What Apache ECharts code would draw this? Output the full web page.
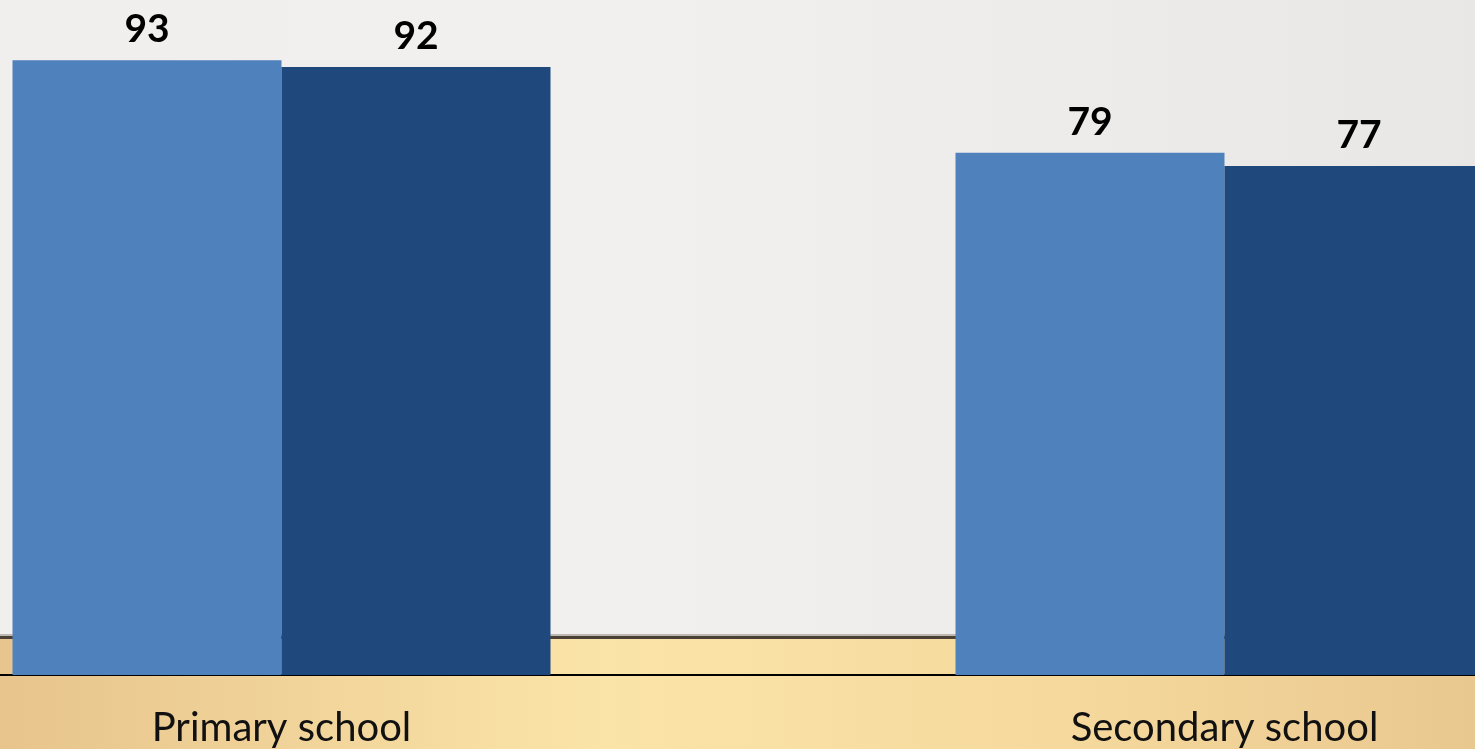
<!DOCTYPE html>
<html><head><meta charset="utf-8">
<script src="https://cdn.jsdelivr.net/npm/echarts@6/dist/echarts.min.js"></script>
<style>html,body{margin:0;padding:0;overflow:hidden;width:1475px;height:749px;position:relative;}#c{position:absolute;left:-190px;top:0;width:1886px;height:749px;}</style>
</head><body><div id="c"></div>
<script>
const categories = ['Primary school', 'Secondary school'];
const seriesA = [93, 79];
const seriesB = [92, 77];
const seriesNames = ['Series 1', 'Series 2'];

const OFF = 190; // visible window offset inside the wider chart canvas
const chart = echarts.init(document.getElementById('c'));
chart.setOption({
  animation: false,
  graphic: [
    { type: 'rect', z: -10, silent: true, shape: { x: 0, y: 0, width: 1886, height: 637 },
      style: { fill: { type: 'linear', x: 0, y: 0, x2: 1, y2: 0, colorStops: [
        { offset: 0, color: '#f0efed' }, { offset: 0.45, color: '#f1f0ee' }, { offset: 1, color: '#e6e5e3' }] } } },
    { type: 'rect', z: -10, silent: true, shape: { x: 0, y: 637, width: 1886, height: 112 },
      style: { fill: { type: 'linear', x: 0, y: 0, x2: 1, y2: 0, colorStops: [
        { offset: 0, color: '#e2bd86' }, { offset: 0.12, color: '#e8c68e' }, { offset: 0.42, color: '#fbe4a8' }, { offset: 0.68, color: '#f5d89c' }, { offset: 0.88, color: '#e9c88f' }, { offset: 1, color: '#e0bd88' }] } } },
    { type: 'rect', z: -9, silent: true, shape: { x: 0, y: 634, width: 1886, height: 2 }, style: { fill: '#bdb8b2' } },
    { type: 'rect', z: -9, silent: true, shape: { x: 0, y: 636, width: 1886, height: 3 }, style: { fill: '#4a4036' } }
  ],
  grid: { left: 0, right: 0, top: 14, bottom: 74, containLabel: false },
  xAxis: {
    type: 'category', data: categories,
    axisLine: { show: true, lineStyle: { color: '#000', width: 2 } },
    axisTick: { show: false },
    axisLabel: { color: '#111', fontFamily: 'Lato', fontSize: 40, margin: 33 }
  },
  yAxis: { type: 'value', min: 0, max: 100, show: false, splitLine: { show: false } },
  series: [
    { name: seriesNames[0], type: 'bar', data: seriesA, barWidth: 269, barGap: '0%',
      itemStyle: { color: '#4f81bd' },
      label: { show: true, position: 'top', distance: 11, color: '#000', fontFamily: 'Lato', fontWeight: 'bold', fontSize: 39 } },
    { name: seriesNames[1], type: 'bar', data: seriesB, barWidth: 269, barGap: '0%',
      itemStyle: { color: '#1f497d' },
      label: { show: true, position: 'top', distance: 11, color: '#000', fontFamily: 'Lato', fontWeight: 'bold', fontSize: 39 } }
  ]
});
</script></body></html>
